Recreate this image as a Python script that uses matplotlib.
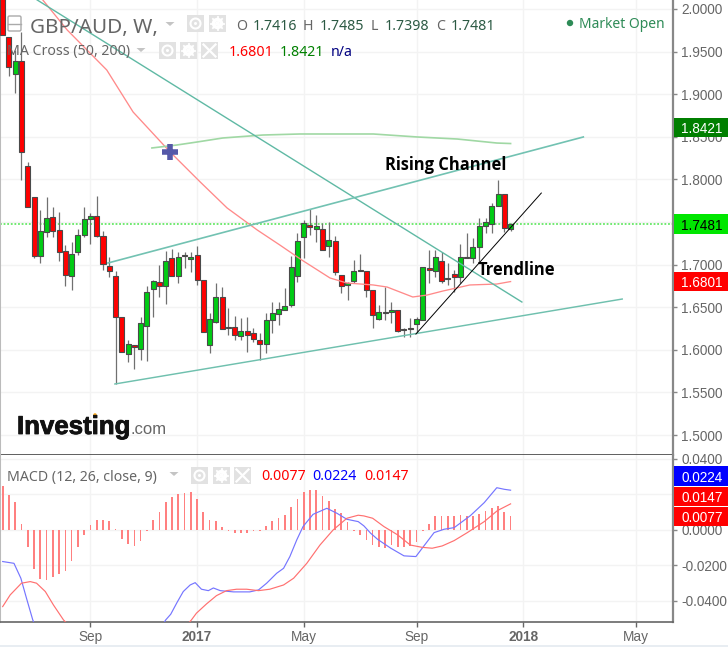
import numpy as np
import matplotlib
matplotlib.use('Agg')
import matplotlib.pyplot as plt
import matplotlib.patheffects as pe
from matplotlib.patches import Rectangle, Circle, FancyBboxPatch, Polygon

# weekly candles
opens = [2.0458, 1.9671, 1.9237, 1.9390, 1.8157, 1.7793, 1.7101, 1.7383, 1.7559, 1.7406,
         1.7160, 1.6866, 1.7148, 1.7347, 1.7535, 1.7570, 1.7336, 1.6984, 1.6866, 1.6385,
         1.5951, 1.6057, 1.6010, 1.6279, 1.6714, 1.6796, 1.6749, 1.7077, 1.6866, 1.7113,
         1.7066, 1.7113, 1.6819, 1.6057, 1.6326, 1.6620, 1.6267, 1.6267, 1.6162, 1.6220,
         1.6197, 1.6115, 1.6069, 1.6350, 1.6420, 1.6467, 1.6526, 1.6866, 1.7324, 1.7465,
         1.7418, 1.7418, 1.7218, 1.7277, 1.6878, 1.6761, 1.6807, 1.6937, 1.6925, 1.6702,
         1.6361, 1.6443, 1.6443, 1.6467, 1.6244, 1.6256, 1.6303, 1.6350, 1.6960, 1.6925,
         1.7042, 1.6843, 1.6890, 1.6854, 1.7089, 1.7077, 1.7207, 1.7453, 1.7477, 1.7688,
         1.7829, 1.7416]
highs = [2.0516, 1.9671, 1.9519, 1.9730, 1.8204, 1.7793, 1.7641, 1.7793, 1.7676, 1.7617,
         1.7230, 1.7265, 1.7418, 1.7676, 1.7606, 1.7805, 1.7394, 1.7089, 1.6925, 1.6385,
         1.6115, 1.6057, 1.6385, 1.6749, 1.6819, 1.6995, 1.7160, 1.7183, 1.7148, 1.7148,
         1.7148, 1.7218, 1.6819, 1.6432, 1.6784, 1.6737, 1.6490, 1.6397, 1.6373, 1.6385,
         1.6256, 1.6197, 1.6432, 1.6561, 1.6561, 1.6725, 1.7101, 1.7371, 1.7523, 1.7653,
         1.7582, 1.7488, 1.7500, 1.7336, 1.6878, 1.6796, 1.7054, 1.7124, 1.6925, 1.6702,
         1.6526, 1.6737, 1.6561, 1.6467, 1.6256, 1.6373, 1.6385, 1.6972, 1.7171, 1.7171,
         1.7148, 1.7019, 1.6937, 1.7242, 1.7371, 1.7312, 1.7547, 1.7547, 1.7723, 1.7993,
         1.7829, 1.7485]
lows = [1.9695, 1.9214, 1.9014, 1.7993, 1.7676, 1.7077, 1.7019, 1.7324, 1.7324, 1.7042,
        1.6749, 1.6702, 1.7113, 1.7324, 1.7242, 1.7324, 1.6937, 1.6854, 1.5599, 1.5974,
        1.5857, 1.5775, 1.5880, 1.5869, 1.6385, 1.6620, 1.6537, 1.6866, 1.6784, 1.6960,
        1.6913, 1.6761, 1.6209, 1.5962, 1.6314, 1.6244, 1.6174, 1.6115, 1.6115, 1.5974,
        1.6092, 1.5880, 1.5962, 1.6197, 1.6291, 1.6479, 1.6502, 1.6796, 1.7077, 1.7347,
        1.7265, 1.7171, 1.7089, 1.6878, 1.6667, 1.6584, 1.6784, 1.6925, 1.6620, 1.6256,
        1.6350, 1.6350, 1.6314, 1.6209, 1.6150, 1.6150, 1.6197, 1.6350, 1.6784, 1.6854,
        1.6784, 1.6761, 1.6678, 1.6784, 1.7077, 1.7019, 1.7019, 1.7371, 1.7371, 1.7688,
        1.7383, 1.7398]
closes = [1.9695, 1.9319, 1.9390, 1.8322, 1.7676, 1.7101, 1.7394, 1.7547, 1.7394, 1.7148,
          1.6878, 1.7124, 1.7347, 1.7535, 1.7570, 1.7336, 1.7007, 1.6925, 1.6385, 1.5974,
          1.6069, 1.6033, 1.6314, 1.6678, 1.6807, 1.6749, 1.7042, 1.6866, 1.7089, 1.7101,
          1.7089, 1.6819, 1.6209, 1.6361, 1.6620, 1.6244, 1.6256, 1.6174, 1.6220, 1.6174,
          1.6127, 1.6069, 1.6350, 1.6432, 1.6479, 1.6514, 1.6972, 1.7277, 1.7488, 1.7441,
          1.7453, 1.7171, 1.7289, 1.6913, 1.6749, 1.6784, 1.6925, 1.6925, 1.6702, 1.6408,
          1.6443, 1.6432, 1.6467, 1.6220, 1.6232, 1.6244, 1.6361, 1.6972, 1.6937, 1.7089,
          1.6807, 1.6831, 1.6854, 1.7089, 1.7077, 1.7207, 1.7453, 1.7500, 1.7688, 1.7829,
          1.7430, 1.7481]

# moving averages
ma50_x = [6.4, 10.3, 16.6, 20.8, 26.7, 31.5, 35.8, 40.6, 44.2, 47.7, 52.2, 54.9, 59.1, 61.3,
          65.4, 67.7, 70.2, 74.5, 78.8, 81]
ma50_y = [2.0106, 1.9753, 1.9284, 1.8791, 1.8322, 1.7970, 1.7664, 1.7406, 1.7230, 1.7054,
          1.6843, 1.6784, 1.6761, 1.6737, 1.6620, 1.6643, 1.6690, 1.6761, 1.6772, 1.6801]
ma200_x = [23.8, 27.8, 31, 35.1, 41.5, 47.4, 59.1, 66.1, 72.5, 78.8, 81]
ma200_y = [1.8369, 1.8404, 1.8439, 1.8486, 1.8521, 1.8533, 1.8533, 1.8498, 1.8474, 1.8427, 1.8421]

# hand drawn lines on the chart
falling_x = [5.5, 82.8]
falling_y = [2.0106, 1.6561]
upper_x = [16.8, 92.6]
upper_y = [1.7019, 1.8498]
lower_x = [17.9, 98.8]
lower_y = [1.5599, 1.6596]
trend_x = [65.9, 85.9]
trend_y = [1.6185, 1.7840]
cross_x = [26.7]
cross_y = [1.8322]

# MACD panel
hist = [0.0248, 0.0197, 0.0156, 0.0034, -0.0098, -0.0222, -0.0276, -0.0282, -0.0267, -0.0248,
        -0.0231, -0.0175, -0.0098, -0.0028, 0.0028, 0.0056, 0.0056, 0.0051, 0.0006, -0.0049,
        -0.0079, -0.0090, -0.0062, -0.0008, 0.0056, 0.0100, 0.0156, 0.0184, 0.0203, 0.0210,
        0.0212, 0.0177, 0.0100, 0.0056, 0.0051, 0.0015, -0.0004, -0.0019, -0.0019, -0.0015,
        -0.0008, -0.0006, 0.0023, 0.0051, 0.0069, 0.0085, 0.0128, 0.0177, 0.0212, 0.0225,
        0.0225, 0.0192, 0.0163, 0.0116, 0.0098, 0.0047, -0.0004, -0.0028, -0.0056, -0.0085,
        -0.0096, -0.0100, -0.0085, -0.0096, -0.0098, -0.0090, -0.0069, -0.0004, 0.0034, 0.0079,
        0.0079, 0.0079, 0.0079, 0.0085, 0.0081, 0.0079, 0.0092, 0.0107, 0.0122, 0.0135,
        0.0100, 0.0077]
macd_x = [0, 1.8, 2.9, 3.8, 4.8, 6.5, 23.5, 26, 26.8, 27.8, 28.8, 29.9, 30.7, 31.7, 32.8, 33.6,
          34.7, 36.8, 39.4, 40.8, 42.1, 43.7, 44.8, 45.8, 46.9, 47.9, 49.5, 51.7, 53.3, 54.9,
          56.7, 57.6, 58.7, 59.8, 61.9, 64, 65.9, 66.9, 68.8, 70.4, 72, 74.6, 76.8, 78.8, 80, 81]
macd_y = [-0.0178, -0.0188, -0.0272, -0.0385, -0.0507, -0.065, -0.065, -0.0507, -0.0475, -0.0409,
          -0.0347, -0.0310, -0.0297, -0.0334, -0.0342, -0.0327, -0.0342, -0.0349, -0.0349, -0.0338,
          -0.0300, -0.0244, -0.0216, -0.0150, -0.0056, 0.0019, 0.0088, 0.0122, 0.0094, 0.0060,
          0.0047, 0.0023, -0.0019, -0.0053, -0.0103, -0.0146, -0.0150, -0.0103, -0.0015, 0.0004,
          0.0013, 0.0081, 0.0154, 0.0238, 0.0229, 0.0224]
signal_x = [0, 1.2, 3, 4.4, 5.4, 6.8, 8.1, 9.7, 12.3, 27.8, 30.1, 30.9, 32.5, 34.1, 35.7, 37.3,
            38.9, 40.8, 42.6, 44.8, 46.4, 48.5, 50.6, 52.7, 54.9, 56.7, 57.6, 59, 60.8, 63, 65,
            66.9, 68.5, 70.1, 72, 74.1, 76.8, 78.9, 81]
signal_y = [-0.0432, -0.0366, -0.0300, -0.0291, -0.0300, -0.0347, -0.0423, -0.0507, -0.06, -0.06,
            -0.0507, -0.0469, -0.0417, -0.0370, -0.0342, -0.0334, -0.0334, -0.0342, -0.0334, -0.0310,
            -0.0272, -0.0188, -0.0085, 0.0, 0.0066, 0.0083, 0.0079, 0.0066, 0.0019, -0.0028, -0.0085,
            -0.0098, -0.0103, -0.0090, -0.0060, -0.0015, 0.0047, 0.0109, 0.0147]

# axis ticks
x_ticks = [14, 31, 48, 66, 83, 101]
x_labels = ['Sep', '2017', 'May', 'Sep', '2018', 'May']
price_ticks = [2.0, 1.95, 1.9, 1.85, 1.8, 1.75, 1.7, 1.65, 1.6, 1.55, 1.5]
macd_ticks = [0.04, 0.02, 0.0, -0.02, -0.04]
macd_tick_labels = ['0.0400', '', '0.0000', '-0.0200', '-0.0400']

W, H = 728, 647
RIGHT = 673
DIV = 454.7
BOT = 621.7
TICK_GREY = '#666666'
TEXT_FONT = ['Noto Sans', 'DejaVu Sans']
AXIS_FONT = ['Liberation Sans', 'DejaVu Sans']
BOLD_FONT = ['Open Sans', 'DejaVu Sans']

fig = plt.figure(figsize=(W / 100, H / 100), dpi=100, facecolor='white')
ax = fig.add_axes([0, (H - DIV) / H, RIGHT / W, DIV / H])
ax2 = fig.add_axes([0, (H - BOT) / H, RIGHT / W, (BOT - DIV) / H], sharex=ax)

weeks = np.arange(len(opens))
for a in (ax, ax2):
    a.set_facecolor('white')
    a.set_axisbelow(True)
    a.grid(True, color='#f3f3f3', lw=1)
    a.spines['top'].set_visible(False)
    a.spines['left'].set_color('#bbbbbb')
    a.spines['left'].set_linewidth(1.5)
    a.spines['right'].set_color('#888888')
    a.spines['right'].set_linewidth(1.6)
    a.spines['bottom'].set_color('#666666')
    a.spines['bottom'].set_linewidth(1.2)
    a.yaxis.tick_right()
    a.tick_params(axis='y', length=3, width=1, color='#888888', pad=2.8, labelsize=9.8,
                  labelcolor=TICK_GREY)

ax.set_xlim(-0.426, 106.9)
ax.set_ylim(1.4769, 2.01056)
ax.set_yticks(price_ticks)
ax.set_yticklabels(['%.4f' % p for p in price_ticks], family=AXIS_FONT)
ax.tick_params(axis='x', length=0, labelbottom=False)
ax.spines['bottom'].set_color('#444444')

# candles
for i in weeks:
    up = closes[i] >= opens[i]
    ax.vlines(i, lows[i], highs[i], color='#707070', lw=0.9, zorder=3)
    ax.bar(i, abs(closes[i] - opens[i]), bottom=min(opens[i], closes[i]), width=0.8,
           color='#00cc14' if up else '#ff0000', edgecolor='#4a4a4a', lw=0.8, zorder=4)

ax.axhline(closes[-1], color='#66e866', lw=1.3, ls=(0, (1, 1)), zorder=2)
ax.plot(ma50_x, ma50_y, color='#ff8a8a', lw=0.95, zorder=5)
ax.plot(ma200_x, ma200_y, color='#a0d8a4', lw=1.2, zorder=5)
ax.plot(falling_x, falling_y, color='#5fb9a4', lw=1.0, zorder=5)
ax.plot(upper_x, upper_y, color='#72c2b2', lw=1.2, zorder=5)
ax.plot(lower_x, lower_y, color='#6fc0ae', lw=1.05, zorder=5)
ax.plot(trend_x, trend_y, color='black', lw=0.7, zorder=6)
ax.plot(cross_x, cross_y, marker='+', ms=11, mew=4, color='#5558a8', zorder=7)

# MACD
ax2.set_ylim(-0.0517, 0.0424)
ax2.set_yticks(macd_ticks)
ax2.set_yticklabels(macd_tick_labels, family=AXIS_FONT)
ax2.bar(weeks, hist, width=0.27, color='#ff8080', zorder=3)
ax2.plot(macd_x, macd_y, color='#7575ff', lw=0.85, zorder=4)
ax2.plot(signal_x, signal_y, color='#ff7070', lw=0.85, zorder=4)
ax2.set_xticks(x_ticks)
ax2.set_xticklabels(x_labels, family=AXIS_FONT)
ax2.tick_params(axis='x', length=3.5, width=1, color='#666666', pad=2.2, labelsize=9.8,
                labelcolor=TICK_GREY)
for lab in ax2.get_xticklabels():
    if lab.get_text().isdigit():
        lab.set_fontweight('bold')

# overlay in pixel coordinates for the header texts, icons and price flags
top = fig.add_axes([0, 0, 1, 1], zorder=10)
top.set_xlim(0, W)
top.set_ylim(H, 0)
top.axis('off')
top.patch.set_alpha(0)


def icon(x, y, kind):
    top.add_patch(Rectangle((x, y), 17, 17, color='#e2e2e2', lw=0))
    cx, cy = x + 8.5, y + 8.5
    if kind == 'eye':
        top.add_patch(Circle((cx, cy), 5, fc='none', ec='white', lw=1.5))
        top.add_patch(Circle((cx, cy), 1.5, color='white', lw=0))
    elif kind == 'gear':
        top.add_patch(Circle((cx, cy), 4, fc='none', ec='white', lw=2.5))
        for ang in np.arange(0, np.pi, np.pi / 4):
            dx, dy = 6.5 * np.cos(ang), 6.5 * np.sin(ang)
            top.plot([cx - dx, cx + dx], [cy - dy, cy + dy], color='white', lw=1.3)
        top.add_patch(Circle((cx, cy), 2, color='#e2e2e2', lw=0))
    else:
        top.plot([cx - 6, cx + 6], [cy - 6, cy + 6], color='white', lw=1.6)
        top.plot([cx - 6, cx + 6], [cy + 6, cy - 6], color='white', lw=1.6)


def caret(x, y):
    top.add_patch(Polygon([(x - 4.5, y - 2), (x + 4.5, y - 2), (x, y + 2)], color='#c4c4c4', lw=0))


def flag(y0, y1, text, bg, fg='white'):
    top.add_patch(Rectangle((RIGHT + 0.5, y0), W - RIGHT, y1 - y0, color=bg, lw=0))
    top.text(681, (y0 + y1) / 2, text, color=fg, fontsize=9.8, family=AXIS_FONT,
             va='center_baseline', ha='left')


def label(x, y, text, color, size=10.2, **kw):
    top.text(x, y, text, color=color, fontsize=size, family=TEXT_FONT,
             va='center_baseline', ha='left', **kw)


# hamburger box
top.add_patch(FancyBboxPatch((8, 16), 13, 15, boxstyle='round,pad=0,rounding_size=1.5',
                             fc='none', ec='#aaaaaa', lw=1))
top.plot([8, 21], [23.5, 23.5], color='#aaaaaa', lw=1)

label(30.5, 25, 'GBP/AUD, W,', '#666666', size=14.9)
caret(170, 24)
icon(187, 15, 'eye')
icon(209, 15, 'gear')
label(236, 25, 'O', '#666666')
label(253, 25, '1.7416', '#2c5a44')
label(303, 25, 'H', '#666666')
label(320, 25, '1.7485', '#2c5a44')
label(371, 25, 'L', '#666666')
label(385, 25, '1.7398', '#2c5a44')
label(436, 25, 'C', '#666666')
label(451, 25, '1.7481', '#2c5a44')
top.add_patch(Circle((570, 23), 3.2, color='#2e8b57', lw=0))
label(579, 23, 'Market Open', '#2e8b57', size=10)

label(7, 50, 'MA Cross (50, 200)', '#666666')
caret(141, 50)
icon(159, 42, 'eye')
icon(180, 42, 'gear')
icon(201, 42, 'x')
label(229, 50, '1.6801', '#ff0000')
label(280, 50, '1.8421', '#008000')
label(331, 50, 'n/a', '#000080')

label(7, 475, 'MACD (12, 26, close, 9)', '#666666')
caret(174, 474)
icon(191, 467, 'eye')
icon(213, 467, 'gear')
icon(234, 467, 'x')
label(261, 475, '0.0077', '#ff0000')
label(312, 475, '0.0224', '#0000ff')
label(364, 475, '0.0147', '#ff0000')

# price flags
flag(118, 137, '1.8421', '#007f00')
flag(214, 234, '1.7481', '#00e600', 'black')
flag(272, 291, '1.6801', '#ff0000')
flag(466, 486, '0.0224', '#0000ff')
flag(486.5, 506, '0.0147', '#ff0000')
flag(507, 526, '0.0077', '#ff0000')

# annotations
top.text(385, 163, 'Rising Channel', color='black', fontsize=11.9, fontweight='bold',
         family=BOLD_FONT, va='center_baseline', ha='left')
top.text(478, 268, 'Trendline', color='black', fontsize=11.9, fontweight='bold',
         family=BOLD_FONT, va='center_baseline', ha='left')

# logo
logo = top.text(17, 434, 'Investing', color='#111111', fontsize=18.6, fontweight='bold',
                family=AXIS_FONT, va='baseline', ha='left')
logo.set_path_effects([pe.withStroke(linewidth=0.6, foreground='#111111')])
top.text(131, 434, '.com', color='#666666', fontsize=12, family=AXIS_FONT, va='baseline', ha='left')
top.add_patch(Circle((95, 415), 1.8, color='#f7a823', lw=0))

# strip along the bottom
top.add_patch(Rectangle((0, 645), W, 2, color='#e8edf2', lw=0))

fig.savefig('out.png', dpi=100)
